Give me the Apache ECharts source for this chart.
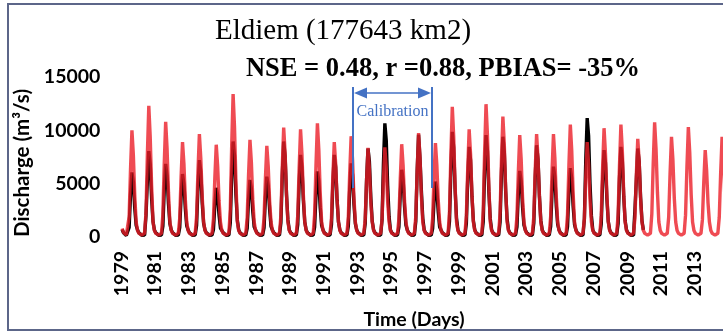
<!DOCTYPE html>
<html>
<head>
<meta charset="utf-8">
<script src="https://cdn.jsdelivr.net/npm/echarts@6/dist/echarts.min.js"></script>
<style>
  html, body { margin: 0; padding: 0; background: #fff; }
  #chart { width: 723px; height: 333px; }
</style>
</head>
<body>
<div id="chart"></div>
<script>
// monthly discharge (m3/s), Jan..Dec, one row per year
let simStart = 1979;
let simRows = [
    [800, 420, 260, 200, 350, 1900, 6400, 10000, 7700, 3900, 1400, 600],
    [340, 230, 170, 150, 350, 2300, 7800, 12300, 9400, 4800, 1400, 600],
    [340, 230, 170, 150, 350, 2100, 6900, 10800, 8300, 4200, 1400, 600],
    [340, 230, 170, 150, 350, 1750, 5700, 8900, 6850, 3500, 1400, 600],
    [340, 230, 170, 150, 350, 1900, 6200, 9650, 7400, 3800, 1400, 600],
    [340, 230, 170, 150, 350, 1700, 5550, 8650, 6650, 3400, 1400, 600],
    [340, 230, 170, 150, 350, 2600, 8600, 13400, 10300, 5200, 1400, 600],
    [340, 230, 170, 150, 350, 1800, 5850, 9100, 7000, 3550, 1400, 600],
    [340, 230, 170, 150, 350, 1700, 5500, 8550, 6600, 3350, 1400, 600],
    [340, 230, 170, 150, 350, 2000, 6550, 10250, 7900, 4000, 1400, 600],
    [340, 230, 170, 150, 350, 2000, 6450, 10100, 7750, 3950, 1400, 600],
    [340, 230, 170, 150, 350, 2100, 6800, 10650, 8200, 4150, 1400, 600],
    [340, 230, 170, 150, 350, 1750, 5700, 8900, 6850, 3500, 1400, 600],
    [340, 230, 170, 150, 350, 1850, 6050, 9450, 7250, 3700, 1400, 600],
    [340, 230, 170, 150, 350, 1650, 5350, 8350, 6400, 3250, 1400, 600],
    [340, 230, 170, 150, 350, 1650, 5400, 8400, 6450, 3300, 1400, 600],
    [340, 230, 170, 150, 350, 1700, 5550, 8700, 6700, 3400, 1400, 600],
    [340, 230, 170, 150, 350, 1900, 6250, 9750, 7500, 3800, 1400, 600],
    [340, 230, 170, 150, 350, 1750, 5650, 8800, 6750, 3450, 1400, 600],
    [340, 230, 170, 150, 350, 2400, 7800, 12200, 9400, 4750, 1400, 600],
    [340, 230, 170, 150, 350, 2000, 6450, 10100, 7750, 3950, 1400, 600],
    [340, 230, 170, 150, 350, 2450, 7950, 12450, 9600, 4850, 1400, 600],
    [340, 230, 170, 150, 350, 2250, 7250, 11300, 8700, 4400, 1400, 600],
    [340, 230, 170, 150, 350, 1900, 6100, 9550, 7350, 3700, 1400, 600],
    [340, 230, 170, 150, 350, 1900, 6200, 9650, 7400, 3800, 1400, 600],
    [340, 230, 170, 150, 350, 1900, 6200, 9650, 7400, 3800, 1400, 600],
    [340, 230, 170, 150, 350, 2100, 6750, 10550, 8100, 4100, 1400, 600],
    [340, 230, 170, 150, 350, 1750, 5700, 8900, 6850, 3500, 1400, 600],
    [340, 230, 170, 150, 350, 2000, 6550, 10200, 7850, 4000, 1400, 600],
    [340, 230, 170, 150, 350, 2100, 6750, 10550, 8100, 4100, 1400, 600],
    [340, 230, 170, 150, 350, 1800, 5900, 9200, 7100, 3600, 1400, 600],
    [340, 230, 170, 150, 350, 2150, 6900, 10750, 8250, 4200, 1400, 600],
    [340, 230, 170, 150, 350, 1850, 6000, 9400, 7250, 3650, 1400, 600],
    [340, 230, 170, 150, 350, 2050, 6600, 10300, 7900, 4000, 1400, 600],
    [340, 230, 170, 150, 350, 1600, 5200, 8150, 6250, 3200, 1400, 600],
    [340, 230, 170, 150, 350, 1850, 6000, 9400, 7250, 3650, 1400, 600]
];

let obsStart = 1979;
let obsRows = [
    [700, 400, 250, 150, 180, 900, 4000, 6050, 5150, 2700, 1100, 650],
    [380, 250, 170, 130, 180, 2000, 5300, 8050, 6850, 3600, 1450, 650],
    [380, 250, 170, 130, 180, 1000, 4450, 6850, 5800, 3100, 1250, 650],
    [380, 250, 170, 130, 180, 880, 3850, 5900, 5000, 2650, 1050, 650],
    [380, 250, 170, 130, 180, 1080, 4700, 7200, 6100, 3250, 1300, 650],
    [380, 250, 170, 130, 180, 690, 3000, 4600, 3900, 2050, 830, 650],
    [380, 250, 170, 130, 180, 1340, 5800, 8950, 7600, 4000, 1600, 650],
    [380, 250, 170, 130, 180, 800, 3500, 5350, 4550, 2400, 960, 650],
    [380, 250, 170, 130, 180, 850, 3650, 5650, 4800, 2550, 1000, 650],
    [380, 250, 170, 130, 180, 1340, 5800, 8950, 7600, 4000, 1600, 650],
    [380, 250, 170, 130, 180, 1150, 5000, 7700, 6550, 3450, 1400, 650],
    [380, 250, 170, 130, 180, 920, 4000, 6150, 5250, 2750, 1100, 650],
    [380, 250, 170, 130, 180, 1150, 5000, 7700, 6550, 3450, 1400, 650],
    [380, 250, 170, 130, 180, 1030, 4500, 6900, 5850, 3100, 1250, 650],
    [380, 250, 170, 130, 180, 1250, 5400, 8300, 7050, 3750, 1500, 650],
    [380, 250, 170, 130, 180, 1600, 6900, 10650, 9050, 4800, 1900, 650],
    [380, 250, 170, 130, 180, 950, 4100, 6300, 5350, 2850, 1130, 650],
    [380, 250, 170, 130, 180, 1440, 6200, 9600, 7400, 4300, 1750, 650],
    [380, 250, 170, 130, 180, 780, 3400, 5200, 4400, 2350, 940, 650],
    [380, 250, 170, 130, 180, 1480, 6400, 9850, 8350, 4450, 1770, 650],
    [380, 250, 170, 130, 180, 1270, 5500, 8450, 7200, 3800, 1520, 650],
    [380, 250, 170, 130, 180, 1430, 6200, 9550, 8100, 4300, 1720, 650],
    [380, 250, 170, 130, 180, 1400, 6100, 9400, 8000, 4250, 1700, 650],
    [380, 250, 170, 130, 180, 930, 4050, 6200, 5250, 2800, 1120, 650],
    [380, 250, 170, 130, 180, 1300, 5600, 8600, 7300, 3850, 1550, 650],
    [380, 250, 170, 130, 180, 990, 4300, 6600, 5600, 2950, 1190, 650],
    [380, 250, 170, 130, 180, 970, 4200, 6450, 5500, 2900, 1160, 650],
    [380, 250, 170, 130, 180, 1670, 7250, 11150, 9500, 5000, 2000, 650],
    [380, 250, 170, 130, 180, 1220, 5300, 8150, 6950, 3650, 1470, 650],
    [380, 250, 170, 130, 180, 1270, 5500, 8450, 7200, 3800, 1520, 650],
    [380, 250, 170, 130, 180, 2600, 5400, 8300, 7050, 3750, 1500, 650]
];

let tickYears = [1979, 1981, 1983, 1985, 1987, 1989, 1991, 1993, 1995, 1997,
                 1999, 2001, 2003, 2005, 2007, 2009, 2011, 2013];
let yTicks = [0, 5000, 10000, 15000];

// rows -> [year fraction, value]
let toPoints = (rows, start) => {
    let pts = [];
    rows.forEach((row, i) => {
        row.forEach((v, m) => pts.push([start + i + (m + 0.5) / 12, v]));
    });
    return pts;
};

let sansBold = { fontFamily: 'Lato', fontWeight: 'bold', color: '#000' };
let blue = '#4472c4';

let option = {
    animation: false,
    grid: {
        left: 121.4,
        right: 0,
        top: 77,
        bottom: 96,
        containLabel: false,
        outerBoundsMode: 'none'
    },
    xAxis: {
        type: 'value',
        min: 1979,
        max: 2014.68,
        axisLine: { show: false },
        axisTick: { show: false },
        splitLine: { show: false },
        axisLabel: {
            ...sansBold,
            fontSize: 19.5,
            rotate: 90,
            margin: 14,
            customValues: tickYears,
            hideOverlap: false,
            formatter: v => String(Math.round(v))
        }
    },
    yAxis: {
        type: 'value',
        min: 0,
        max: 15000,
        axisLine: { show: false },
        axisTick: { show: false },
        splitLine: { show: false },
        axisLabel: {
            ...sansBold,
            fontSize: 19.5,
            margin: 21,
            customValues: yTicks,
            formatter: v => String(v)
        }
    },
    series: [
        {
            name: 'Observed',
            type: 'line',
            data: toPoints(obsRows, obsStart),
            showSymbol: false,
            lineStyle: { color: '#000', width: 3.4 },
            z: 2
        },
        {
            name: 'Simulated',
            type: 'line',
            data: toPoints(simRows, simStart),
            showSymbol: false,
            lineStyle: { color: 'rgba(235,30,40,0.8)', width: 3.4 },
            z: 3
        }
    ],
    graphic: [
        {
            type: 'rect',
            shape: { x: 8, y: 4, width: 740, height: 326 },
            style: { fill: 'none', stroke: '#5c6689', lineWidth: 2 },
            silent: true
        },
        {
            type: 'text',
            style: {
                text: 'Eldiem (177643 km2)', x: 343, y: 31,
                font: '29px "Liberation Serif"', fill: '#000',
                align: 'center', verticalAlign: 'middle',
                textAlign: 'center', textVerticalAlign: 'middle'
            }
        },
        {
            type: 'text',
            style: {
                text: 'NSE = 0.48, r =0.88, PBIAS= -35%', x: 443, y: 69,
                font: 'bold 26.5px "Liberation Serif"', fill: '#000',
                align: 'center', verticalAlign: 'middle',
                textAlign: 'center', textVerticalAlign: 'middle'
            }
        },
        {
            type: 'text',
            rotation: Math.PI / 2,
            x: 22,
            y: 163,
            style: {
                text: 'Discharge (m³/s)', x: 0, y: 0,
                font: 'bold 20.5px Lato', fill: '#000',
                align: 'center', verticalAlign: 'middle',
                textAlign: 'center', textVerticalAlign: 'middle'
            }
        },
        {
            type: 'text',
            style: {
                text: 'Time (Days)', x: 414, y: 320,
                font: 'bold 19.5px Lato', fill: '#000',
                align: 'center', verticalAlign: 'middle',
                textAlign: 'center', textVerticalAlign: 'middle'
            }
        },
        // calibration period marker
        { type: 'line', shape: { x1: 353, y1: 87, x2: 353, y2: 188 }, style: { stroke: blue, lineWidth: 2 }, z: 10 },
        { type: 'line', shape: { x1: 432, y1: 87, x2: 432, y2: 188 }, style: { stroke: blue, lineWidth: 2 }, z: 10 },
        { type: 'line', shape: { x1: 360, y1: 93, x2: 425, y2: 93 }, style: { stroke: blue, lineWidth: 1.5 }, z: 10 },
        { type: 'polygon', shape: { points: [[354, 93], [367, 87.5], [367, 98.5]] }, style: { fill: blue }, z: 10 },
        { type: 'polygon', shape: { points: [[431, 93], [418, 87.5], [418, 98.5]] }, style: { fill: blue }, z: 10 },
        {
            type: 'text',
            z: 10,
            style: {
                text: 'Calibration', x: 392.5, y: 112,
                font: '16px "Liberation Serif"', fill: blue,
                align: 'center', verticalAlign: 'middle',
                textAlign: 'center', textVerticalAlign: 'middle'
            }
        }
    ]
};

let mychart = echarts.init(document.getElementById('chart'));
mychart.setOption(option);
</script>
</body>
</html>
